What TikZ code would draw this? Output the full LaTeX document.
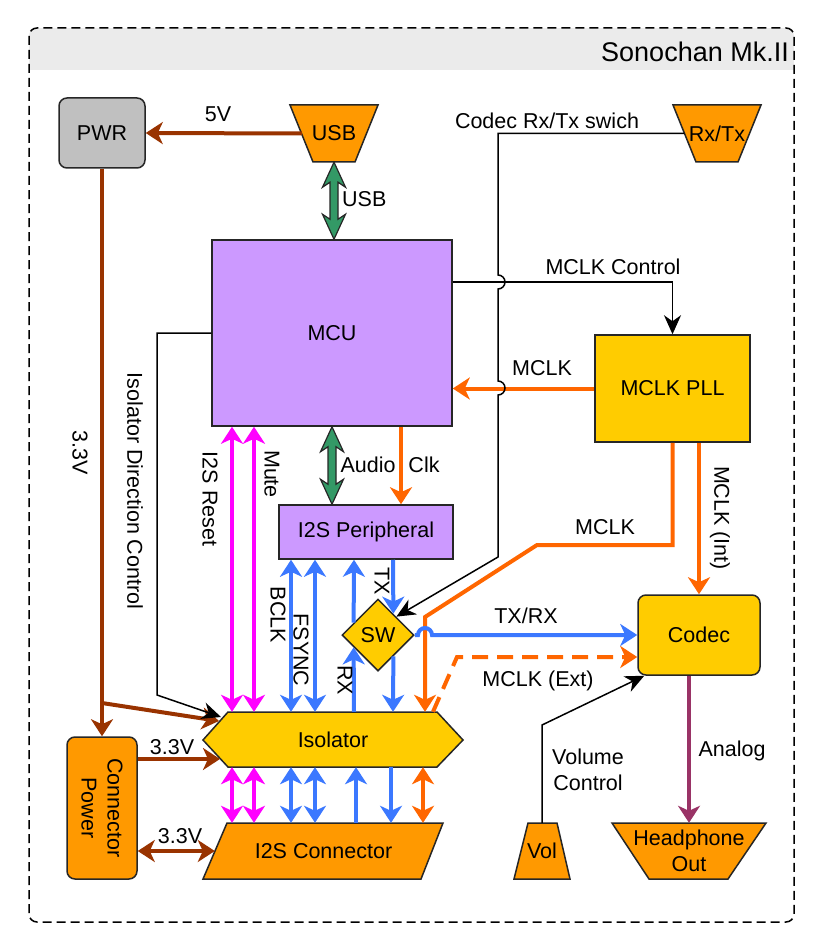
\documentclass[tikz,border=0pt]{standalone}
\usepackage{fontspec}
\setmainfont{Liberation Sans}
\usetikzlibrary{arrows.meta,shapes.geometric,calc}
\newcommand\lblf{\fontsize{21.5}{26}\selectfont}
\newcommand\ttlf{\fontsize{27}{31}\selectfont}
\definecolor{brn}{HTML}{993300}
\definecolor{org}{HTML}{FF6600}
\definecolor{blu}{HTML}{3B78FF}
\definecolor{mag}{HTML}{FF00FF}
\definecolor{grn}{HTML}{339966}
\definecolor{mcuc}{HTML}{CC99FF}
\definecolor{ylw}{HTML}{FFCC00}
\definecolor{orf}{HTML}{FF9900}
\definecolor{gry}{HTML}{C0C0C0}
\definecolor{ana}{HTML}{993366}
\definecolor{band}{HTML}{EBEBEB}
\newcommand\gblock[2]{%
 \path[fill=grn,draw=black!85,line width=1.2pt] let \p1=#1, \p2=#2 in
 (\x1,\y1) -- (\x1+11.5pt,\y1-25pt) -- (\x1+4pt,\y1-20pt) -- (\x1+4pt,\y2+20pt) -- (\x1+11.5pt,\y2+25pt) -- (\x1,\y2) -- (\x1-11.5pt,\y2+25pt) -- (\x1-4pt,\y2+20pt) -- (\x1-4pt,\y1-20pt) -- (\x1-11.5pt,\y1-25pt) -- cycle;}
\begin{document}
\begin{tikzpicture}[x=1pt,y=-1pt,
 box/.style={draw=black!85,line width=1.5pt,font=\lblf,align=center,inner sep=0pt},
 shp/.style={draw=black!85,line width=1.5pt},
 inlab/.style={font=\lblf,align=center,inner sep=0pt},
 lab/.style={font=\lblf,align=center,inner sep=1pt},
 rlab/.style={font=\lblf,align=center,inner sep=1pt,rotate=-90},
 wireA/.style={line width=4pt},
 thinw/.style={line width=1.5pt,black},
 tip/.style={-{Stealth[length=17pt,width=22pt,inset=5pt]}},
 dtip/.style={{Stealth[length=17pt,width=22pt,inset=5pt]}-{Stealth[length=17pt,width=22pt,inset=5pt]}},
 stip/.style={-{Stealth[length=19pt,width=17pt,inset=6pt]}},
]
\useasboundingbox (0,0) rectangle (823,952);
% frame
\begin{scope}
\clip[rounded corners=8pt] (29,28) rectangle (794,922);
\fill[band] (29,28) rectangle (794,70);
\end{scope}
\draw[line width=1.5pt,dash pattern=on 9pt off 5pt,rounded corners=8pt] (29,28) rectangle (794,922);
\node[anchor=east,font=\ttlf,inner sep=0pt] (title) at (789,52) {Sonochan Mk.II};

% shapes drawn as polygons
\draw[shp,fill=orf] (290,105) -- (378,105) -- (355,162) -- (313,162) -- cycle;
\draw[shp,fill=orf] (673,105) -- (761,105) -- (738,162) -- (696,162) -- cycle;
\draw[shp,fill=ylw] (203,740) -- (228,712) -- (437,712) -- (463,740) -- (437,767) -- (228,767) -- cycle;
\draw[shp,fill=orf] (227,823) -- (443,823) -- (421,879) -- (203,879) -- cycle;
\draw[shp,fill=orf] (528,823) -- (557,823) -- (570,879) -- (514,879) -- cycle;
\draw[shp,fill=orf] (612,823) -- (766,823) -- (728,879) -- (649,879) -- cycle;

% nodes
\node[box,fill=gry,rounded corners=8pt,minimum width=86,minimum height=70] (pwr) at (102,133) {PWR};
\node[inlab,minimum width=64,minimum height=57] (usb) at (334,133.5) {USB};
\node[inlab,minimum width=65,minimum height=57] (rxtx) at (717,133.5) {Rx/Tx};
\node[box,fill=mcuc,minimum width=240,minimum height=186] (mcu) at (332,333) {MCU};
\node[box,fill=ylw,minimum width=155,minimum height=107] (pll) at (672.5,388.5) {MCLK PLL};
\node[box,fill=mcuc,minimum width=174,minimum height=54] (i2sp) at (366,532) {I2S Peripheral};
\node[box,diamond,fill=ylw,minimum width=72,minimum height=72] (sw) at (378,635) {SW};
\node[box,fill=ylw,rounded corners=8pt,minimum width=122,minimum height=80] (codec) at (699,635) {Codec};
\node[inlab,minimum width=235,minimum height=55] (iso) at (333,739.5) {Isolator};
\node[inlab,minimum width=217,minimum height=56] (conn) at (323.5,851) {I2S Connector};
\node[box,fill=orf,rounded corners=8pt,minimum width=70,minimum height=142] (cp) at (102,808) {};
\node[inlab,rotate=-90] (cptext) at (cp.center) {Connector\\Power};
\node[inlab,minimum width=42,minimum height=56] (vol) at (542,851) {Vol};
\node[inlab,minimum width=116,minimum height=56] (hp) at (689,851) {Headphone\\Out};

% power
\draw[brn,wireA,tip] (usb.west) -- (pwr.east);
\node[lab] (l5v) at (218,114) {5V};
\draw[brn,wireA,tip] (pwr.south) -- (cp.north);
\node[rlab] (l33a) at (80,453) {3.3V};
\coordinate (pbr) at (102,703);
\coordinate (isoA) at (219,721);
\draw[brn,wireA,tip] (pbr) -- (isoA);
\coordinate (isoB) at (220,759);
\draw[brn,wireA,tip] (cp.east |- isoB) -- (isoB);
\node[lab] (l33b) at (172,747) {3.3V};
\draw[brn,wireA,dtip] (cp.east |- conn.west) -- (conn.west);
\node[lab] (l33c) at (180,836) {3.3V};

% USB
\gblock{(usb.south)}{(mcu.north -| usb.south)}
\node[lab,anchor=west] (lusb) at (341,199) {USB};

% MCLK control
\draw[thinw,stip] (mcu.east |- 0,282) -- (pll.north |- 0,282) -- (pll.north);
\node[lab] (lmc) at (613,267) {MCLK Control};
\draw[org,wireA,tip] (pll.west) -- (mcu.east |- pll.west);
\node[lab] (lmclk1) at (542,368) {MCLK};
\draw[org,wireA,tip] (pll.south) -- (pll.south |- 0,545) -- (537,545) -- (425,617) -- (iso.north -| 425,0);
\node[lab] (lmclk2) at (605,527) {MCLK};
\draw[org,wireA,tip] (pll.south east -| codec.north) -- (codec.north);
\node[rlab] (lint) at (720,518) {MCLK (Int)};
\draw[org,wireA,dash pattern=on 16pt off 9pt,tip] (iso.north -| 433,0) -- (457,657) -- (codec.west |- 0,657);
\node[lab] (lext) at (538,681) {MCLK (Ext)};

% MCU to I2S peripheral
\gblock{(mcu.south -| 332,0)}{(i2sp.north -| 332,0)}
\node[lab] (laud) at (368,465) {Audio};
\draw[org,wireA,tip] (mcu.south -| 401,0) -- (i2sp.north -| 401,0);
\node[lab] (lclk) at (424,465) {Clk};

% magenta
\foreach \xx in {232,254} {
 \draw[mag,wireA,dtip] (mcu.south -| \xx,0) -- (iso.north -| \xx,0);
 \draw[mag,wireA,dtip] (iso.south -| \xx,0) -- (conn.north -| \xx,0);
}
\node[rlab] (lrst) at (210,499) {I2S Reset};
\node[rlab] (lmute) at (272,474) {Mute};

% blue
\foreach \xx in {291,315} {
 \draw[blu,wireA,dtip] (i2sp.south -| \xx,0) -- (iso.north -| \xx,0);
 \draw[blu,wireA,dtip] (iso.south -| \xx,0) -- (conn.north -| \xx,0);
}
\node[rlab] (lbclk) at (278,615) {BCLK};
\node[rlab] (lfs) at (301,650) {FSYNC};
\draw[blu,wireA,tip] (iso.north -| 354,0) -- ($(sw.south west)+(-6,-6)$);
\draw[blu,wireA,tip] ($(sw.north west)+(-6,6)$) -- (i2sp.south -| 354,0);
\draw[blu,wireA,tip] (conn.north -| 356,0) -- (iso.south -| 356,0);
\node[rlab] (lrx) at (345,680) {RX};
\draw[blu,wireA,tip] (i2sp.south -| 393,0) -- ($(sw.north east)+(-3,-3)$);
\draw[blu,wireA,tip] ($(sw.south east)+(-3,3)$) -- (iso.north -| 393,0);
\draw[blu,wireA,tip] (iso.south -| 391,0) -- (conn.north -| 391,0);
\node[rlab] (ltx) at (382,581) {TX};
\draw[org,wireA,dtip] (iso.south -| 423,0) -- (conn.north -| 423,0);
\draw[blu,wireA,tip] (sw.east) -- (418,635) arc[start angle=180,end angle=0,radius=7pt] -- (codec.west);
\node[lab] (ltxrx) at (526,616) {TX/RX};

% black control lines
\draw[thinw,stip] (rxtx.west) -- (rxtx.west -| 498,0) -- (498,275) arc[start angle=90,end angle=-90,radius=7pt] -- (498,381) arc[start angle=90,end angle=-90,radius=7pt] -- (498,557) -- (sw.north east);
\node[lab] (lsw) at (547,121) {Codec Rx/Tx swich};
\coordinate (isoC) at (221,717);
\draw[thinw,stip] (mcu.west) -- (mcu.west -| 157,0) -- (157,695) -- (isoC);
\node[rlab] (ldir) at (135,491) {Isolator Direction Control};
\draw[thinw,stip] (vol.north) -- (vol.north |- 0,725) -- ($(codec.south west)+(7,0)$);
\node[lab] (lvol) at (588,770) {Volume\\Control};
\draw[ana,wireA,tip] (codec.south -| hp.north) -- (hp.north);
\node[lab] (lana) at (732,751) {Analog};
\end{tikzpicture}
\end{document}
